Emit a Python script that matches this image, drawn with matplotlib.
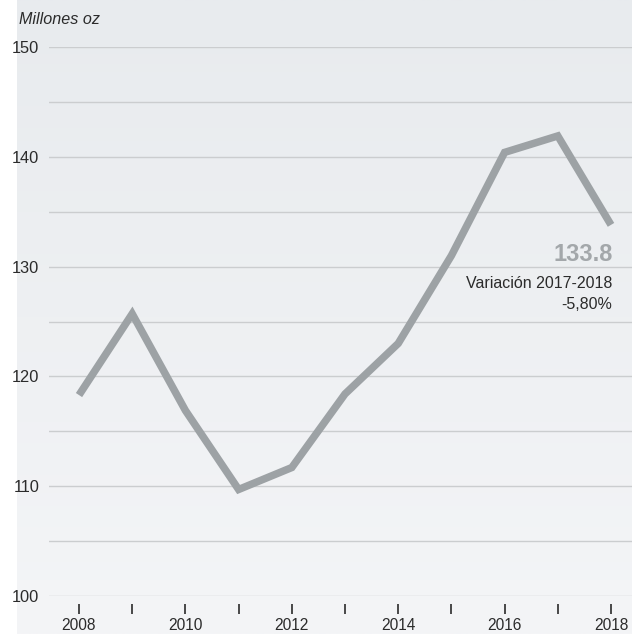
import numpy as np
import matplotlib.pyplot as plt

# silver supply, millions of ounces
years = [2008, 2009, 2010, 2011, 2012, 2013, 2014, 2015, 2016, 2017, 2018]
values = [118.3, 125.7, 116.9, 109.7, 111.7, 118.4, 123.0, 131.0, 140.4, 141.9, 133.8]
yticks = [100, 110, 120, 130, 140, 150]
xlabel_years = [2008, 2010, 2012, 2014, 2016, 2018]

W, H = 632, 634
fig = plt.figure(figsize=(W / 100, H / 100), dpi=100)
plt.rcParams['font.family'] = ['Liberation Sans', 'DejaVu Sans']

# soft vertical gradient behind the plot
bg = fig.add_axes([17 / W, 0, 1 - 17 / W, 1])
top = np.array([232, 235, 238]) / 255
bottom = np.array([244, 245, 247]) / 255
t = np.linspace(0, 1, 256)[:, None]
grad = (top * (1 - t) + bottom * t)[:, None, :]
bg.imshow(grad, aspect='auto', extent=[0, 1, 0, 1])
bg.axis('off')

# main axes: 2008 at x=79px, 2018 at x=611px; 150 at y=47px, 100 at y=596px
x0px, x1px = 49, W
px_per_year = (611 - 79) / 10
ax = fig.add_axes([x0px / W, (H - 596) / H, (x1px - x0px) / W, (596 - 47) / H])
ax.set_xlim(2008 + (x0px - 79) / px_per_year, 2008 + (x1px - 79) / px_per_year)
ax.set_ylim(100, 150)
ax.patch.set_alpha(0)

for v in np.arange(100, 151, 5):
    ax.axhline(v, color='#cbcdcf', lw=1.0, zorder=1)

ax.plot(years, values, color='#9da2a5', lw=5.4, solid_joinstyle='miter',
        solid_capstyle='butt', zorder=3)

for s in ax.spines.values():
    s.set_visible(False)
ax.spines['bottom'].set_position(('outward', 6))

ax.set_yticks(yticks)
ax.set_yticklabels([str(v) for v in yticks])
ax.tick_params(axis='y', length=0, pad=7, labelsize=11.8, labelcolor='#2b2b2b')

ax.set_xticks(years)
ax.set_xticklabels([str(y) if y in xlabel_years else '' for y in years])
ax.tick_params(axis='x', length=7, width=1.2, color='#2b2b2b', pad=3,
               labelsize=11.2, labelcolor='#2b2b2b')

fig.text(19 / W, 1 - 20 / H, 'Millones oz', style='italic', fontsize=11.6,
         color='#2b2b2b', va='center', ha='left')

ax.annotate(f'{values[-1]:.1f}', xy=(years[-1], values[-1]), xytext=(1, -13),
            textcoords='offset points', ha='right', va='top', fontsize=17,
            fontweight='bold', color='#a3a7aa')
ax.annotate('Variación 2017-2018\n-5,80%', xy=(years[-1], values[-1]),
            xytext=(1, -37), textcoords='offset points', ha='right', va='top',
            fontsize=11.5, color='#2b2b2b', linespacing=1.45)

fig.savefig('out.png', dpi=100)
